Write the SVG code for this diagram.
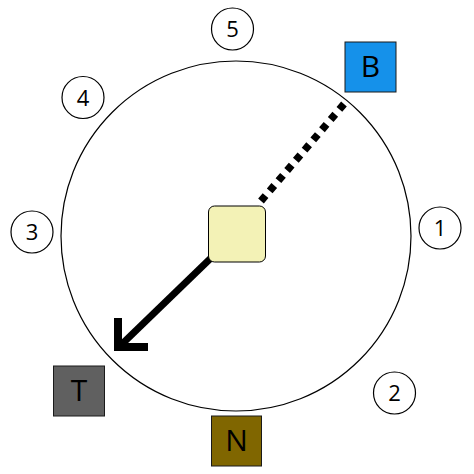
<svg xmlns="http://www.w3.org/2000/svg" width="474" height="474" viewBox="0 0 474 474">
<style>
.num{fill:#fff;stroke:#000;stroke-width:1.2}
.nt{font-family:"Open Sans","Liberation Sans",sans-serif;font-size:22px;fill:#000;text-anchor:middle}
.bt{font-family:"Open Sans","Liberation Sans",sans-serif;font-size:30px;fill:#000;text-anchor:middle}
.sq{stroke:#1a1a1a;stroke-width:1}
</style>
<rect width="474" height="474" fill="#fff"/>
<circle cx="236" cy="236" r="175" fill="none" stroke="#000" stroke-width="1.2"/>
<g id="connectors">
<line x1="261" y1="201" x2="344" y2="104" stroke="#000" stroke-width="7.5" stroke-dasharray="7,6.4"/>
<line x1="212" y1="257" x2="121" y2="345" stroke="#000" stroke-width="7"/>
<polyline points="118,318 118,347 148,347" fill="none" stroke="#000" stroke-width="8"/>
</g>
<g id="center"><rect x="208.5" y="206" width="57" height="56" rx="6" fill="#F3F2B6" stroke="#000" stroke-width="1"/></g>
<g id="B"><rect class="sq" x="345" y="42" width="51" height="50" fill="#1591EA"/><text class="bt" x="370.5" y="77">B</text></g>
<g id="T"><rect class="sq" x="53.5" y="366" width="51" height="50" fill="#606060"/><text class="bt" x="79" y="401">T</text></g>
<g id="N"><rect class="sq" x="211.5" y="416" width="50" height="50" fill="#806600"/><text class="bt" x="236.5" y="451">N</text></g>
<g id="n5"><circle class="num" cx="232.5" cy="29" r="21"/><text class="nt" x="232.5" y="37">5</text></g>
<g id="n4"><circle class="num" cx="83" cy="97.5" r="21"/><text class="nt" x="83" y="105.5">4</text></g>
<g id="n3"><circle class="num" cx="32" cy="232" r="21"/><text class="nt" x="32" y="240">3</text></g>
<g id="n1"><circle class="num" cx="440" cy="228" r="21"/><text class="nt" x="440" y="236">1</text></g>
<g id="n2"><circle class="num" cx="394.5" cy="393" r="21"/><text class="nt" x="394.5" y="401">2</text></g>
</svg>
